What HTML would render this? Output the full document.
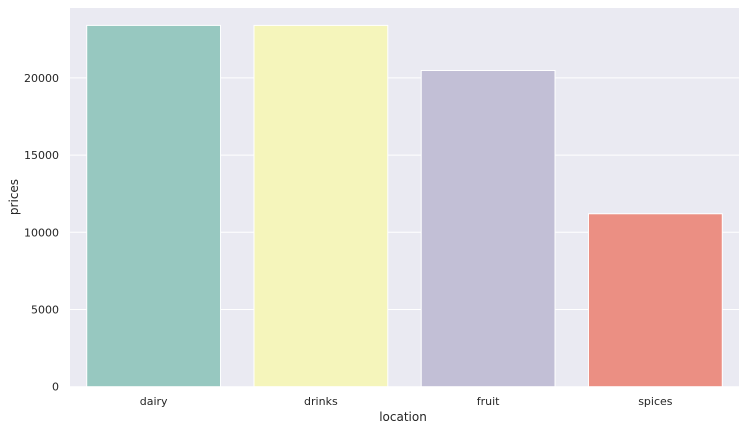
<!DOCTYPE html>
<html><head><meta charset="utf-8"><style>
body{margin:0;background:#fff;}
svg{display:block;font-family:"DejaVu Sans","Liberation Sans",sans-serif;}
</style></head><body>
<svg id="chart" width="745" height="431">
<rect x="70" y="8" width="669" height="379" fill="#eaeaf2"/>
<g id="grid"></g><g id="bars"></g><g id="yticks"></g><g id="xticks"></g>
<text x="403" y="421" text-anchor="middle" font-size="12" fill="#262626">location</text>
<text transform="translate(18,197) rotate(-90)" text-anchor="middle" font-size="12" fill="#262626">prices</text>
</svg>
<script>
const categories = ["dairy","drinks","fruit","spices"];
const prices = [23400, 23400, 20480, 11200];
const yTicks = [0,5000,10000,15000,20000];
const colors = ["#97c8c0","#f5f5bb","#c2bfd6","#eb8f83"];
const NS="http://www.w3.org/2000/svg";
const L=70,R=739,Y0=386.7,PX=77.2/5000;
const y=v=>Y0-v*PX;
const band=(R-L)/categories.length;
const x=i=>L+band*i;
function mk(t,a,p){const e=document.createElementNS(NS,t);for(const k in a)e.setAttribute(k,a[k]);p.appendChild(e);return e;}
const grid=document.getElementById('grid'),bars=document.getElementById('bars'),yt=document.getElementById('yticks'),xt=document.getElementById('xticks');
yTicks.forEach(v=>{
  const l=mk('line',{x1:L,x2:R,y1:y(v),y2:y(v),stroke:'#fff','stroke-width':1},grid);
  
  
  const t=mk('text',{x:L-11,y:y(v)+4,'text-anchor':'end','font-size':11,fill:'#262626'},yt);
  t.textContent=v;
  
  
});
categories.forEach((c,i)=>{
  const bw=band*0.8;
  const r=mk('rect',{x:x(i)+band*0.1,y:y(prices[i]),width:bw,height:Y0-y(prices[i]),fill:colors[i],stroke:'#fff','stroke-width':1},bars);
  
  
  const t=mk('text',{x:x(i)+band/2,y:405,'text-anchor':'middle','font-size':11,fill:'#262626'},xt);
  t.textContent=c;
  
  
});
</script>
</body></html>
